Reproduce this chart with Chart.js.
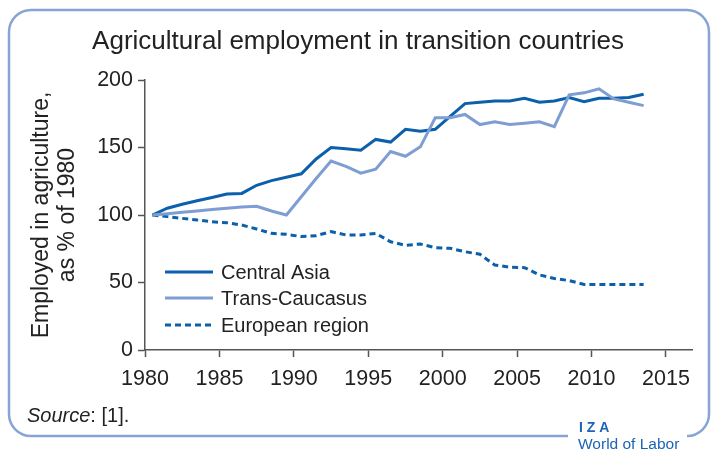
<!DOCTYPE html>
<html>
<head>
<meta charset="utf-8">
<script src="https://cdn.jsdelivr.net/npm/chart.js@4.4.0/dist/chart.umd.min.js"></script>
<style>
  html, body { margin: 0; padding: 0; background: #fff; }
</style>
</head>
<body>
<canvas id="chart" width="716" height="450"></canvas>
<script>
// Datos (índice 1980 = 100)
const years = [1980, 1981, 1982, 1983, 1984, 1985, 1986, 1987, 1988, 1989,
  1990, 1991, 1992, 1993, 1994, 1995, 1996, 1997, 1998, 1999,
  2000, 2001, 2002, 2003, 2004, 2005, 2006, 2007, 2008, 2009,
  2010, 2011, 2012, 2013];
const centralAsia = [100, 105, 108, 110.5, 113, 115.5, 116, 122, 125.5, 128,
  130.5, 141.5, 150, 149, 148, 156, 154, 163.5, 162, 163.5,
  173, 182.5, 183.5, 184.5, 184.5, 186.5, 183.5, 184.5, 187, 184,
  186.5, 186.5, 187, 189.5];
const transCaucasus = [100, 101, 102, 103, 104, 105, 106, 106.5, 103, 100,
  113.5, 127, 140, 136, 131, 134, 147, 143.5, 150.5, 172,
  172, 174.5, 167, 169, 167, 168, 169, 165.5, 189, 190.5,
  193.5, 186, 183.5, 181];
const europeanRegion = [100, 98.8, 97.5, 96.3, 95, 94.3, 92.6, 89.6, 86.4, 85.7,
  84, 84.7, 87.7, 85.2, 85.2, 86.4, 80.2, 77.5, 78.5, 75.8,
  75.3, 72.8, 70.9, 63, 61.3, 61, 55.6, 53, 51.4, 48.6,
  48.6, 48.6, 48.6, 48.6];
const seriesNames = ["Central Asia", "Trans-Caucasus", "European region"];
const xTicks = [1980, 1985, 1990, 1995, 2000, 2005, 2010, 2015];
const yTicks = [0, 50, 100, 150, 200];

const FONT = "'Liberation Sans', Arial, sans-serif";
const DARK_BLUE = "#0b5fab";
const LIGHT_BLUE = "#7e9dd3";

// los puntos se dibujan a mitad de año
function toPoints(values) {
  return values.map((v, i) => ({ x: years[i] + 0.5, y: v }));
}

// marco, título, fuente y logo
const decoPlugin = {
  id: "deco",
  beforeDraw(chart) {
    const ctx = chart.ctx;
    ctx.save();
    ctx.fillStyle = "#fff";
    ctx.fillRect(0, 0, chart.width, chart.height);
    const l = 9, t = 10, r = 709, b = 436, rad = 22;
    ctx.strokeStyle = "#88a4d6";
    ctx.lineWidth = 2.5;
    ctx.beginPath();
    ctx.moveTo(568, b);
    ctx.lineTo(l + rad, b);
    ctx.arcTo(l, b, l, b - rad, rad);
    ctx.lineTo(l, t + rad);
    ctx.arcTo(l, t, l + rad, t, rad);
    ctx.lineTo(r - rad, t);
    ctx.arcTo(r, t, r, t + rad, rad);
    ctx.lineTo(r, b - rad);
    ctx.arcTo(r, b, r - rad, b, rad);
    ctx.lineTo(688, b);
    ctx.stroke();
    ctx.restore();
  },
  afterDraw(chart) {
    const ctx = chart.ctx;
    ctx.save();
    ctx.fillStyle = "#222";
    ctx.textBaseline = "alphabetic";
    ctx.textAlign = "center";
    ctx.font = "26px " + FONT;
    ctx.fillText("Agricultural employment in transition countries", 358, 49);

    ctx.textAlign = "left";
    ctx.font = "italic 20px " + FONT;
    ctx.fillText("Source", 27, 422);
    const w = ctx.measureText("Source").width;
    ctx.font = "20px " + FONT;
    ctx.fillText(": [1].", 27 + w, 422);

    ctx.fillStyle = "#1d64b5";
    ctx.font = "bold 14px " + FONT;
    ctx.fillText("I Z A", 579, 432);
    ctx.font = "15.5px " + FONT;
    ctx.fillText("World of Labor", 578, 449);

    // leyenda
    const ys = [272, 298, 325];
    chart.data.datasets.forEach((ds, i) => {
      ctx.strokeStyle = ds.borderColor;
      ctx.lineWidth = ds.borderWidth;
      ctx.setLineDash(ds.borderDash || []);
      ctx.beginPath();
      ctx.moveTo(165, ys[i]);
      ctx.lineTo(213, ys[i]);
      ctx.stroke();
      ctx.setLineDash([]);
      ctx.fillStyle = "#222";
      ctx.font = "20px " + FONT;
      ctx.textBaseline = "middle";
      ctx.fillText(ds.label, 221, ys[i] + 1);
    });
    ctx.restore();
  }
};

const ctx = document.getElementById("chart").getContext("2d");
new Chart(ctx, {
  type: "line",
  data: {
    datasets: [
      {
        label: seriesNames[0],
        data: toPoints(centralAsia),
        borderColor: DARK_BLUE,
        borderWidth: 3,
        order: 1
      },
      {
        label: seriesNames[1],
        data: toPoints(transCaucasus),
        borderColor: LIGHT_BLUE,
        borderWidth: 3,
        order: 0
      },
      {
        label: seriesNames[2],
        data: toPoints(europeanRegion),
        borderColor: DARK_BLUE,
        borderWidth: 3,
        borderDash: [6, 4],
        order: 2
      }
    ]
  },
  options: {
    responsive: false,
    animation: false,
    events: [],
    layout: { padding: { top: 80, left: 0, right: 24, bottom: 0 } },
    elements: {
      point: { radius: 0 },
      line: { tension: 0, borderCapStyle: "butt", fill: false }
    },
    scales: {
      x: {
        type: "linear",
        min: 1980,
        max: 2016.75,
        afterFit: (s) => { s.height = 100; },
        afterBuildTicks: (s) => { s.ticks = xTicks.map((v) => ({ value: v })); },
        grid: { drawOnChartArea: false, tickLength: 7, color: "#555", tickWidth: 1.5 },
        border: { color: "#555", width: 1.5 },
        ticks: {
          color: "#222",
          font: { family: FONT, size: 21.5 },
          padding: 9,
          maxRotation: 0,
          callback: (v) => String(v)
        }
      },
      y: {
        min: 0,
        max: 200,
        afterFit: (s) => { s.width = 145; },
        afterBuildTicks: (s) => { s.ticks = yTicks.map((v) => ({ value: v })); },
        grid: { drawOnChartArea: false, tickLength: 7, color: "#555", tickWidth: 1.5 },
        border: { color: "#555", width: 1.5 },
        ticks: {
          color: "#222",
          font: { family: FONT, size: 21.5 },
          padding: 5
        },
        title: {
          display: true,
          text: ["Employed in agriculture,", "as % of 1980"],
          color: "#222",
          font: { family: FONT, size: 23, lineHeight: 1.15 },
          padding: { top: 28, bottom: 0 }
        }
      }
    },
    plugins: {
      legend: { display: false },
      tooltip: { enabled: false },
      title: { display: false }
    }
  },
  plugins: [decoPlugin]
});
</script>
</body>
</html>
